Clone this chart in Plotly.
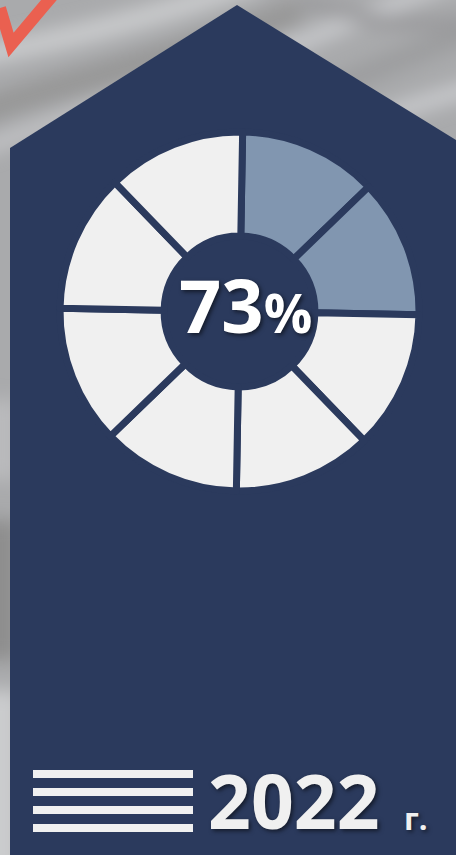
import base64
import plotly.graph_objects as go

# ---- data ----
segment_labels = ["s1", "s2", "s3", "s4", "s5", "s6", "s7", "s8"]
segment_values = [1, 1, 1, 1, 1, 1, 1, 1]
filled_segments = 2
percent_text = "73"
year_text = "2022"
year_suffix = "г."

NAVY = "#2B3A5D"
LIGHT = "#F0F0F0"
HIGHLIGHT = "#8196B0"
W, H = 456, 855

seg_colors = [HIGHLIGHT if i < filled_segments else LIGHT for i in range(len(segment_values))]

# ---- background (grey wavy fabric + red tick) as svg image ----
svg = f"""<svg xmlns='http://www.w3.org/2000/svg' width='{W}' height='{H}' viewBox='0 0 {W} {H}'>
<defs><filter id='b' x='-50%' y='-50%' width='200%' height='200%'><feGaussianBlur stdDeviation='9'/></filter></defs>
<rect width='{W}' height='{H}' fill='#a9aaac'/>
<g filter='url(#b)'>
<path d='M -40 60 C 60 40 150 20 260 -20' stroke='#c9cacc' stroke-width='22' fill='none'/>
<path d='M -40 120 C 60 80 180 60 300 10' stroke='#979797' stroke-width='26' fill='none'/>
<path d='M -20 150 C 80 110 200 80 300 40' stroke='#c4c5c7' stroke-width='14' fill='none'/>
<path d='M 260 60 C 330 30 400 0 480 -30' stroke='#c8c9cc' stroke-width='16' fill='none'/>
<path d='M 280 110 C 350 80 420 50 500 20' stroke='#9c9d9f' stroke-width='22' fill='none'/>
<path d='M 330 140 C 380 115 430 100 500 80' stroke='#c9cacd' stroke-width='16' fill='none'/>
<path d='M 300 0 C 360 20 420 30 480 20' stroke='#9a9a9c' stroke-width='14' fill='none'/>
<rect x='-20' y='520' width='40' height='140' fill='#8e8e8e'/>
<rect x='-20' y='690' width='40' height='200' fill='#cbccce'/>
<rect x='-20' y='400' width='40' height='80' fill='#b9babc'/>
</g>
<path d='M 0 8 L 11 45 L 54 -6' stroke='#ea6050' stroke-width='12' fill='none' stroke-linejoin='miter'/>
</svg>"""
bg_src = "data:image/svg+xml;base64," + base64.b64encode(svg.encode("utf-8")).decode()

fig = go.Figure()

# donut
cx, cy, r = 239.5, 311.5, 179.5
fig.add_trace(go.Pie(
    labels=segment_labels,
    values=segment_values,
    sort=False,
    direction="clockwise",
    rotation=1,
    hole=0.42,
    marker=dict(colors=seg_colors, line=dict(color=NAVY, width=7)),
    textinfo="none",
    hoverinfo="skip",
    showlegend=False,
    domain=dict(x=[(cx - r) / W, (cx + r) / W], y=[1 - (cy + r) / H, 1 - (cy - r) / H]),
))

shapes = [
    dict(type="path", xref="x", yref="y", layer="below",
         path="M 10,855 L 10,148 L 237,5 L 456,140 L 456,855 Z",
         fillcolor=NAVY, line=dict(width=0)),
]
for y0 in [770, 788, 806, 824]:
    shapes.append(dict(type="rect", xref="x", yref="y", layer="above",
                       x0=33, x1=193, y0=y0, y1=y0 + 8,
                       fillcolor=LIGHT, line=dict(width=0)))

shadow = "2px 2px 4px rgba(0,0,0,0.55)"
annotations = [
    dict(x=245, y=304, xref="x", yref="y", xanchor="center", yanchor="middle",
         text=f"{percent_text}<span style='font-size:54px'>%</span>", showarrow=False,
         font=dict(family="Open Sans", size=74, color="#FFFFFF", weight="bold", shadow=shadow)),
    dict(x=206, y=800, xref="x", yref="y", xanchor="left", yanchor="middle",
         text=year_text, showarrow=False,
         font=dict(family="Open Sans", size=75, color=LIGHT, weight="bold", shadow=shadow)),
    dict(x=402, y=818, xref="x", yref="y", xanchor="left", yanchor="middle",
         text=year_suffix, showarrow=False,
         font=dict(family="Open Sans", size=31, color=LIGHT, weight="bold", shadow=shadow)),
]

fig.update_layout(
    width=W, height=H,
    margin=dict(l=0, r=0, t=0, b=0),
    paper_bgcolor="#a9aaac", plot_bgcolor="rgba(0,0,0,0)",
    xaxis=dict(range=[0, W], visible=False, fixedrange=True),
    yaxis=dict(range=[H, 0], visible=False, fixedrange=True),
    shapes=shapes,
    annotations=annotations,
    images=[dict(source=bg_src, xref="paper", yref="paper", x=0, y=1, sizex=1, sizey=1,
                 xanchor="left", yanchor="top", sizing="stretch", layer="below")],
)

fig.write_html("out.html", config={"displayModeBar": False})
